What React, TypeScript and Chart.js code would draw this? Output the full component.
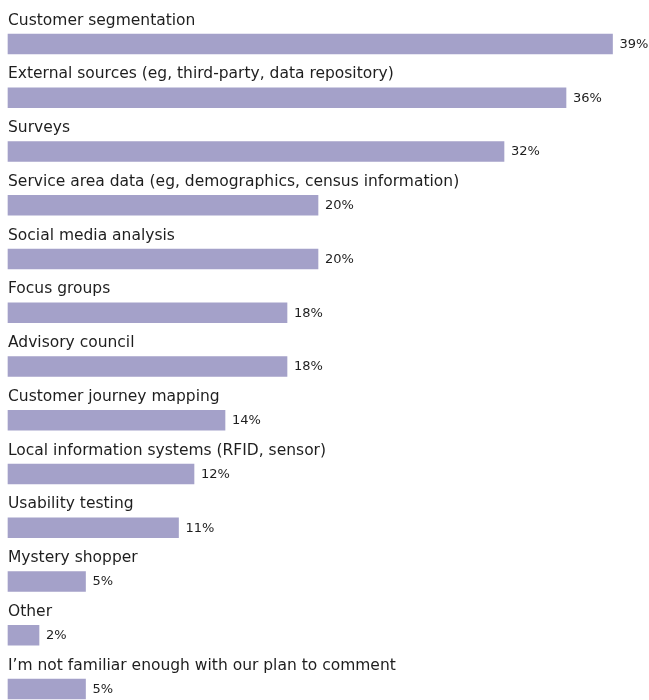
import React, { useEffect, useRef } from "react";
import { Chart, registerables } from "chart.js";

Chart.register(...registerables);

const categories = [
  "Customer segmentation",
  "External sources (eg, third-party, data repository)",
  "Surveys",
  "Service area data (eg, demographics, census information)",
  "Social media analysis",
  "Focus groups",
  "Advisory council",
  "Customer journey mapping",
  "Local information systems (RFID, sensor)",
  "Usability testing",
  "Mystery shopper",
  "Other",
  "I\u2019m not familiar enough with our plan to comment",
];

const values = [39, 36, 32, 20, 20, 18, 18, 14, 12, 11, 5, 2, 5];

const valueLabels = values.map((v) => `${v}%`);

const BAR_COLOR = "#A4A1C9";
const TEXT_COLOR = "#1e1e1e";

const labelPlugin = {
  id: "rowLabels",
  afterDatasetsDraw(chart: any) {
    const ctx = chart.ctx;
    const meta = chart.getDatasetMeta(0);
    ctx.save();
    meta.data.forEach((bar: any, i: number) => {
      const h = bar.height;
      ctx.fillStyle = TEXT_COLOR;
      ctx.font = '15.5px "DejaVu Sans"';
      ctx.textAlign = "left";
      ctx.textBaseline = "alphabetic";
      ctx.fillText(categories[i], chart.chartArea.left, bar.y - h / 2 - 9.5);
      ctx.font = '13px "DejaVu Sans"';
      ctx.textBaseline = "middle";
      ctx.fillText(valueLabels[i], bar.x + 7, bar.y + 0.5);
    });
    ctx.restore();
  },
};

export default function App() {
  const ref = useRef<HTMLCanvasElement>(null);
  useEffect(() => {
    if (!ref.current) return;
    const chart = new Chart(ref.current, {
      type: "bar",
      data: {
        labels: categories,
        datasets: [
          {
            data: values,
            backgroundColor: BAR_COLOR,
            barThickness: 20,
            clip: false as any,
          },
        ],
      },
      options: {
        indexAxis: "y",
        animation: false,
        responsive: false,
        maintainAspectRatio: false,
        devicePixelRatio: 1,
        layout: { padding: { left: 8, right: 21, top: 44, bottom: 11 } },
        plugins: {
          legend: { display: false },
          tooltip: { enabled: false },
        },
        scales: {
          x: { display: false, min: 0, max: 40 },
          y: { display: false, offset: false },
        },
      },
      plugins: [labelPlugin],
    });
    return () => chart.destroy();
  }, []);
  return (
    <div style={{ position: "absolute", left: 0, top: 0, width: 649, height: 700, background: "#fff" }}>
      <canvas ref={ref} width={649} height={700} />
    </div>
  );
}
